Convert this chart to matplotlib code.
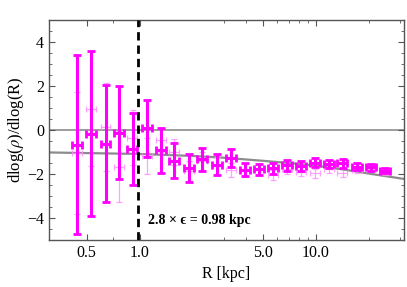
import matplotlib
matplotlib.use('Agg')
import matplotlib.pyplot as plt
from matplotlib.ticker import FixedLocator, FixedFormatter, NullFormatter

plt.rcParams['font.family'] = ['Liberation Serif', 'DejaVu Serif']
plt.rcParams['mathtext.fontset'] = 'stix'

# radial bins (kpc)
R = [0.44, 0.53, 0.64, 0.76, 0.91, 1.10, 1.32, 1.57, 1.91, 2.27, 2.74, 3.29,
     3.97, 4.76, 5.70, 6.84, 8.22, 9.91, 11.9, 14.2, 17.2, 20.6, 24.8]
R_err = [0.03, 0.035, 0.04, 0.05, 0.06, 0.07, 0.09, 0.10, 0.13, 0.15, 0.18, 0.22,
         0.26, 0.31, 0.38, 0.45, 0.54, 0.65, 0.79, 0.94, 1.1, 1.4, 1.6]

# main slope measurement
slope = [-0.66, -0.16, -0.62, -0.12, -0.87, 0.08, -0.92, -1.40, -1.73, -1.33, -1.58, -1.28,
         -1.81, -1.78, -1.75, -1.60, -1.63, -1.48, -1.55, -1.51, -1.66, -1.70, -1.85]
slope_err = [4.07, 3.73, 2.67, 2.10, 1.65, 1.30, 1.02, 0.80, 0.64, 0.52, 0.48, 0.42,
             0.30, 0.25, 0.25, 0.25, 0.22, 0.22, 0.20, 0.20, 0.17, 0.15, 0.12]

# second (faint) measurement
slope2 = [-1.05, 0.97, 0.14, -1.66, -0.35, -1.18, -0.45, -1.00, -1.85, -1.40, -1.65, -1.82,
          -1.85, -1.80, -2.05, -1.78, -1.90, -1.96, -1.78, -1.96, -1.81, -1.78, -1.93]
slope2_err = [2.77, 2.60, 2.00, 1.60, 1.25, 0.80, 0.55, 0.60, 0.45, 0.40, 0.40, 0.33,
              0.30, 0.25, 0.22, 0.20, 0.20, 0.20, 0.18, 0.18, 0.15, 0.13, 0.10]

# model slope curve
R_model = [0.3, 1, 2, 3, 5, 7, 10, 15, 20, 32]
slope_model = [-1.02, -1.09, -1.18, -1.26, -1.40, -1.50, -1.62, -1.82, -1.98, -2.23]

r_soft = 0.98

fig = plt.figure(figsize=(4.07, 2.87), dpi=100)
ax = fig.add_axes([0.1204, 0.1638, 0.8722, 0.7665])

ax.axhline(0, color='#8c8c8c', lw=1.2, zorder=1)
ax.plot(R_model, slope_model, color='#8c8c8c', lw=1.6, zorder=2)

ax.errorbar(R, slope2, yerr=slope2_err, xerr=R_err, fmt='none', ecolor='#ff8cff',
            elinewidth=0.9, capsize=2, capthick=0.9, alpha=0.8, zorder=3)
ax.errorbar(R, slope, yerr=slope_err, xerr=R_err, fmt='none', ecolor='#ff00ff',
            elinewidth=2.2, capsize=2.7, capthick=2.0, zorder=4)

ax.axvline(r_soft, color='black', lw=2, ls=(0, (3, 1.8)), zorder=5)
ax.text(1.11, -4.13, '2.8 × ϵ = 0.98 kpc', fontsize=10, fontweight='bold',
        family=['Liberation Serif', 'DejaVu Serif'], va='center', ha='left')

ax.set_xscale('log')
ax.set_xlim(0.305, 31.7)
ax.set_ylim(-5, 5)

ax.xaxis.set_major_locator(FixedLocator([0.5, 1.0, 5.0, 10.0]))
ax.xaxis.set_major_formatter(FixedFormatter(['0.5', '1.0', '5.0', '10.0']))
ax.xaxis.set_minor_locator(FixedLocator([0.7, 3, 4, 6, 7, 8, 9, 20, 30]))
ax.xaxis.set_minor_formatter(NullFormatter())
ax.set_yticks([-4, -2, 0, 2, 4])
ax.set_yticklabels(['\u22124', '\u22122', '0', '2', '4'])
ax.yaxis.set_minor_locator(FixedLocator([-4.5, -3.5, -3, -2.5, -1.5, -1, -0.5, 0.5, 1, 1.5, 2.5, 3, 3.5, 4.5]))

ax.tick_params(which='both', direction='in', top=True, right=True, color='#555555',
               labelsize=11.5)
ax.tick_params(which='major', length=4, width=0.8)
ax.tick_params(which='minor', length=2, width=0.6)
for s in ax.spines.values():
    s.set_color('#555555')
    s.set_linewidth(1.0)

ax.set_xlabel('R [kpc]', fontsize=11.5, labelpad=4)
ax.set_ylabel(r'dlog($\rho$)/dlog(R)', fontsize=12, labelpad=1)

fig.savefig('out.png', dpi=100)
